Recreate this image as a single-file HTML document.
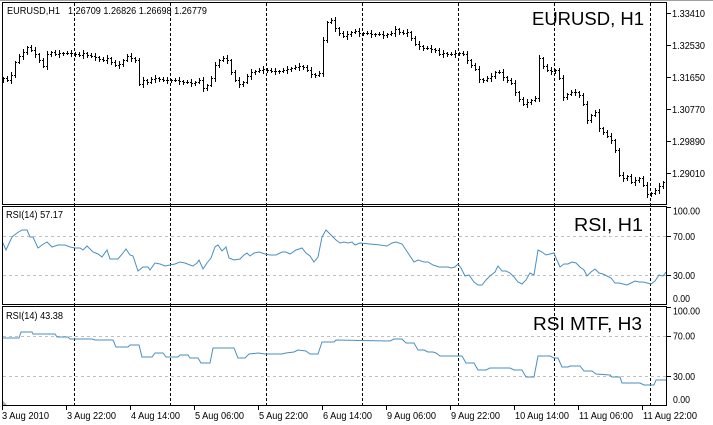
<!DOCTYPE html>
<html><head><meta charset="utf-8"><style>
html,body{margin:0;padding:0;background:#fff;}
svg{display:block;font-family:"Liberation Sans",Arial,sans-serif;}
</style></head><body>
<svg id="s" width="713" height="425" viewBox="0 0 713 425" xmlns="http://www.w3.org/2000/svg">
<defs><clipPath id="cm"><rect x="3" y="3" width="663" height="201"/></clipPath>
<clipPath id="cr"><rect x="3" y="207" width="663" height="97"/></clipPath>
<clipPath id="cq"><rect x="3" y="307" width="663" height="98"/></clipPath></defs>
<rect width="713" height="425" fill="#fff"/>
<line x1="0" y1="0.5" x2="713" y2="0.5" stroke="#a0a0a0"/>
<!-- level lines -->
<g stroke="#c0c0c0" stroke-dasharray="3,3">
<line x1="3" y1="236.5" x2="666" y2="236.5"/><line x1="3" y1="275.5" x2="666" y2="275.5"/>
<line x1="3" y1="336.5" x2="666" y2="336.5"/><line x1="3" y1="376.5" x2="666" y2="376.5"/>
</g>
<!-- period separators -->
<g stroke="#000" stroke-dasharray="3,2">
<line x1="74.5" y1="3" x2="74.5" y2="405"/><line x1="170.5" y1="3" x2="170.5" y2="405"/>
<line x1="266.5" y1="3" x2="266.5" y2="405"/><line x1="362.5" y1="3" x2="362.5" y2="405"/>
<line x1="458.5" y1="3" x2="458.5" y2="405"/><line x1="554.5" y1="3" x2="554.5" y2="405"/>
<line x1="650.5" y1="3" x2="650.5" y2="405"/>
</g>
<path id="bars" clip-path="url(#cm)" stroke="#000" stroke-width="1" fill="none" d=""/>
<polyline clip-path="url(#cr)" fill="none" stroke="#4a8fc0" stroke-width="1" points="3,243 6,250 12,237 17,233 22,230 27,230 30,237 33,237 38,248 42,245 47,242 52,247 58,245 65,245 70,247 75,248 80,248 83,250 87,246 93,252 98,254 102,257 107,250 110,259 114,259 118,259 123,253 126,249 130,255 133,256 138,271 143,267 148,267 150,270 155,263 160,264 165,266 170,265 175,264 180,262 185,263 190,265 193,266 197,263 199,260 203,269 207,263 211,258 215,247 218,245 222,251 226,247 229,258 234,260 240,259 244,255 247,253 250,256 254,253 259,252 265,254 270,255 276,255 282,252 286,252 290,254 296,250 302,248 306,253 310,256 314,262 318,257 322,237 326,230 331,235 336,240 340,243 344,242 348,243 352,242 355,245 360,243 370,244 380,245 387,246 392,243 396,242 402,244 408,253 414,262 418,260 424,262 428,262 433,265 439,267 448,267 451,268 455,267 458,264 461,268 465,276 469,275 474,282 478,285 482,285 486,280 490,276 495,272 498,266 502,271 506,271 510,273 514,277 518,282 522,284 526,280 530,273 534,275 538,250 542,252 546,255 550,254 554,253 556,258 560,267 564,264 568,264 572,262 576,263 580,267 584,270 587,276 591,272 595,269 599,273 603,274 607,276 611,278 615,283 619,283 623,284 627,285 631,283 635,281 639,282 643,282 647,283 651,284 655,281 659,275 663,276 666,272"/>
<polyline clip-path="url(#cq)" fill="none" stroke="#4a8fc0" stroke-width="1" points="3,338 19,338 21,332 32,332 33,334 55,334 57,337 68,337 70,339 92,339 95,340 113,340 116,347 128,347 130,345 139,345 142,357 152,357 155,353 163,353 166,357 178,357 180,355 188,355 190,358 198,358 201,363 210,363 213,348 234,348 238,358 245,358 249,354 258,353 265,354 282,354 286,353 294,352 298,350 306,351 310,354 318,354 322,342 334,342 336,340 390,341 394,339 402,339 406,343 414,343 418,350 424,350 428,352 433,352 436,353 440,356 462,356 466,363 474,363 478,370 486,370 490,368 510,368 514,370 522,370 526,377 534,377 538,356 550,356 554,358 558,358 562,367 568,367 570,366 580,366 584,371 592,371 596,374 610,375 612,377 620,377 622,383 640,383 644,385 654,385 656,380 666,380"/>
<!-- window frames -->
<g fill="none" stroke="#000" stroke-width="1">
<rect x="2.5" y="2.5" width="664" height="202"/>
<rect x="2.5" y="206.5" width="664" height="98"/>
<rect x="2.5" y="306.5" width="664" height="99"/>
</g>
<polygon points="3,401 3,405 7,405" fill="#b0b0b0"/>
<!-- right axis ticks -->
<g stroke="#000">
<line x1="667" y1="13.5" x2="671" y2="13.5"/><line x1="667" y1="45.5" x2="671" y2="45.5"/>
<line x1="667" y1="77.5" x2="671" y2="77.5"/><line x1="667" y1="109.5" x2="671" y2="109.5"/>
<line x1="667" y1="141.5" x2="671" y2="141.5"/><line x1="667" y1="173.5" x2="671" y2="173.5"/>
<line x1="667" y1="207.5" x2="671" y2="207.5"/><line x1="667" y1="236.5" x2="671" y2="236.5"/>
<line x1="667" y1="275.5" x2="671" y2="275.5"/>
<line x1="667" y1="307.5" x2="671" y2="307.5"/><line x1="667" y1="336.5" x2="671" y2="336.5"/>
<line x1="667" y1="376.5" x2="671" y2="376.5"/>
<line x1="2.5" y1="405" x2="2.5" y2="410"/><line x1="66.5" y1="405" x2="66.5" y2="410"/>
<line x1="130.5" y1="405" x2="130.5" y2="410"/><line x1="194.5" y1="405" x2="194.5" y2="410"/>
<line x1="258.5" y1="405" x2="258.5" y2="410"/><line x1="322.5" y1="405" x2="322.5" y2="410"/>
<line x1="386.5" y1="405" x2="386.5" y2="410"/><line x1="450.5" y1="405" x2="450.5" y2="410"/>
<line x1="514.5" y1="405" x2="514.5" y2="410"/><line x1="578.5" y1="405" x2="578.5" y2="410"/>
<line x1="642.5" y1="405" x2="642.5" y2="410"/>
</g>
<g font-size="10" fill="#000">
<text x="7" y="14" textLength="53" lengthAdjust="spacingAndGlyphs">EURUSD,H1</text>
<text x="68" y="14" textLength="139" lengthAdjust="spacingAndGlyphs">1.26709 1.26826 1.26698 1.26779</text>
<text x="6" y="218" textLength="57" lengthAdjust="spacingAndGlyphs">RSI(14) 57.17</text>
<text x="6" y="319" textLength="57" lengthAdjust="spacingAndGlyphs">RSI(14) 43.38</text>
<text x="672" y="17" textLength="33" lengthAdjust="spacingAndGlyphs">1.33410</text>
<text x="672" y="49" textLength="33" lengthAdjust="spacingAndGlyphs">1.32530</text>
<text x="672" y="81" textLength="33" lengthAdjust="spacingAndGlyphs">1.31650</text>
<text x="672" y="113" textLength="33" lengthAdjust="spacingAndGlyphs">1.30770</text>
<text x="672" y="145" textLength="33" lengthAdjust="spacingAndGlyphs">1.29890</text>
<text x="672" y="177" textLength="33" lengthAdjust="spacingAndGlyphs">1.29010</text>
<text x="673" y="214.5" textLength="27" lengthAdjust="spacingAndGlyphs">100.00</text>
<text x="673" y="240" textLength="22" lengthAdjust="spacingAndGlyphs">70.00</text>
<text x="673" y="279" textLength="22" lengthAdjust="spacingAndGlyphs">30.00</text>
<text x="673" y="302" textLength="17" lengthAdjust="spacingAndGlyphs">0.00</text>
<text x="673" y="314.5" textLength="27" lengthAdjust="spacingAndGlyphs">100.00</text>
<text x="673" y="339.5" textLength="22" lengthAdjust="spacingAndGlyphs">70.00</text>
<text x="673" y="380" textLength="22" lengthAdjust="spacingAndGlyphs">30.00</text>
<text x="673" y="403" textLength="17" lengthAdjust="spacingAndGlyphs">0.00</text>
<text x="2" y="419" textLength="47" lengthAdjust="spacingAndGlyphs">3 Aug 2010</text>
<text x="67" y="419" textLength="49" lengthAdjust="spacingAndGlyphs">3 Aug 22:00</text>
<text x="131" y="419" textLength="49" lengthAdjust="spacingAndGlyphs">4 Aug 14:00</text>
<text x="195" y="419" textLength="49" lengthAdjust="spacingAndGlyphs">5 Aug 06:00</text>
<text x="259" y="419" textLength="49" lengthAdjust="spacingAndGlyphs">5 Aug 22:00</text>
<text x="323" y="419" textLength="49" lengthAdjust="spacingAndGlyphs">6 Aug 14:00</text>
<text x="387" y="419" textLength="49" lengthAdjust="spacingAndGlyphs">9 Aug 06:00</text>
<text x="451" y="419" textLength="49" lengthAdjust="spacingAndGlyphs">9 Aug 22:00</text>
<text x="515" y="419" textLength="54" lengthAdjust="spacingAndGlyphs">10 Aug 14:00</text>
<text x="579" y="419" textLength="54" lengthAdjust="spacingAndGlyphs">11 Aug 06:00</text>
<text x="643" y="419" textLength="54" lengthAdjust="spacingAndGlyphs">11 Aug 22:00</text>
</g>
<g font-size="18" fill="#000">
<text x="532" y="25" textLength="112" lengthAdjust="spacingAndGlyphs">EURUSD, H1</text>
<text x="574" y="231" textLength="69" lengthAdjust="spacingAndGlyphs">RSI, H1</text>
<text x="533" y="330" textLength="109" lengthAdjust="spacingAndGlyphs">RSI MTF, H3</text>
</g>
</svg>
<script>
(function(){
var c=[78,80,75,62,56,52,47,50,54,60,66,54,52,54,53,53,53,53,54,55,53,55,56,57,59,60,58,62,65,64,60,56,58,60,84,80,82,79,78,79,80,80,80,80,81,82,82,83,82,80,88,85,78,65,60,58,60,72,80,84,82,76,72,71,70,69,70,71,71,71,70,69,68,67,66,67,70,74,75,73,40,22,20,28,33,36,34,32,31,33,33,33,34,34,34,35,34,33,29,32,33,32,38,44,46,48,48,49,50,54,53,54,54,53,53,54,60,65,69,79,80,78,76,72,72,77,80,83,92,99,104,102,100,98,58,66,70,71,70,78,97,94,92,92,95,104,120,115,112,128,132,136,140,150,175,178,176,182,180,178,185,194,193,190,186,182,183];
var d='';
for(var i=0;i<c.length;i++){
var x=3+4*i,o=i?c[i-1]:c[0]+2,cl=c[i];
var hi=Math.min(o,cl)-(1+((i*7+3)%3)),lo=Math.max(o,cl)+(1+((i*5+1)%3));
d+='M'+(x+.5)+' '+hi+'V'+(lo+1)+'M'+(x-1)+' '+(o+.5)+'h1M'+(x+1)+' '+(cl+.5)+'h1';
}
document.getElementById('bars').setAttribute('d',d);
})();
</script>
</body></html>
